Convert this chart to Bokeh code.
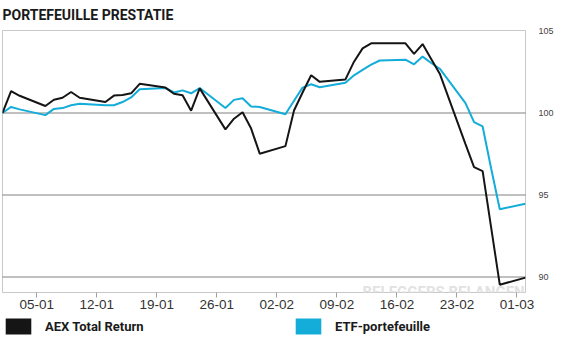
import pandas as pd
from bokeh.plotting import figure
from bokeh.layouts import column
from bokeh.models import (Range1d, FixedTicker, DatetimeTickFormatter, Label, Span,
                          Legend, LegendItem, ColumnDataSource)
from bokeh.embed import file_html
from bokeh.resources import INLINE

# ---------------- data ----------------
dates = ["2020-01-01", "2020-01-02", "2020-01-03", "2020-01-06", "2020-01-07",
         "2020-01-08", "2020-01-09", "2020-01-10", "2020-01-13", "2020-01-14",
         "2020-01-15", "2020-01-16", "2020-01-17", "2020-01-20", "2020-01-21",
         "2020-01-22", "2020-01-23", "2020-01-24", "2020-01-27", "2020-01-28",
         "2020-01-29", "2020-01-30", "2020-01-31", "2020-02-03", "2020-02-04",
         "2020-02-05", "2020-02-06", "2020-02-07", "2020-02-10", "2020-02-11",
         "2020-02-12", "2020-02-13", "2020-02-14", "2020-02-17", "2020-02-18",
         "2020-02-19", "2020-02-20", "2020-02-21", "2020-02-24", "2020-02-25",
         "2020-02-26", "2020-02-27", "2020-02-28", "2020-03-02"]

aex = [100.0, 101.34, 101.05, 100.43, 100.81, 100.93, 101.28, 100.93, 100.67, 101.06,
       101.1, 101.2, 101.78, 101.55, 101.17, 101.08, 100.14, 101.5, 99.0, 99.65,
       100.05, 99.05, 97.52, 97.98, 100.15, 101.25, 102.3, 101.9, 102.05, 103.13,
       103.94, 104.25, 104.25, 104.25, 103.6, 104.2, 103.3, 102.4, 98.1, 96.7,
       96.46, 93.0, 89.53, 89.96]

etf = [100.0, 100.37, 100.22, 99.87, 100.25, 100.3, 100.47, 100.56, 100.47, 100.47,
       100.67, 100.95, 101.45, 101.53, 101.25, 101.38, 101.2, 101.52, 100.3, 100.8,
       100.9, 100.4, 100.37, 99.92, 100.75, 101.55, 101.75, 101.57, 101.84, 102.3,
       102.63, 102.95, 103.2, 103.25, 102.97, 103.44, 103.05, 102.7, 100.6, 99.44,
       99.18, 96.6, 94.13, 94.47]

tick_dates = ["2020-01-05", "2020-01-12", "2020-01-19", "2020-01-26", "2020-02-02",
              "2020-02-09", "2020-02-16", "2020-02-23", "2020-03-01"]
y_ticks = [90, 95, 100, 105]
grid_levels = [90, 95, 100]

title_text = "PORTEFEUILLE PRESTATIE"
series_names = ["AEX Total Return", "ETF-portefeuille"]
watermark_text = "BELEGGERS BELANGEN"

# ---------------- styles ----------------
BLACK = "#151515"
CYAN = "#14acd8"
BOLDFONT = "Roboto"
W = 556

x = pd.to_datetime(dates)
src = ColumnDataSource(dict(x=x, aex=aex, etf=etf))
tick_ms = [int(t.value // 10**6) for t in pd.to_datetime(tick_dates)]

# ---------------- title strip ----------------
ts = figure(width=W, height=22, output_backend="svg", toolbar_location=None,
            x_axis_location=None, y_axis_location=None, min_border=0)
ts.outline_line_color = None
ts.grid.visible = False
ts.add_layout(Label(x=0, y=8, x_units="screen", y_units="screen", text=title_text,
                    text_font=BOLDFONT, text_font_style="bold", text_font_size="14px",
                    text_color="#1a1a1a", text_baseline="alphabetic"))

# ---------------- main chart ----------------
p = figure(width=W, height=293, x_axis_type="datetime", y_axis_location="right",
           output_backend="svg", toolbar_location=None,
           x_range=Range1d(x[0].to_pydatetime(), x[-1].to_pydatetime()),
           y_range=Range1d(89.0549, 105.0305),
           min_border_left=2, min_border_right=23, min_border_top=8, min_border_bottom=23)

p.background_fill_color = "white"
p.border_fill_color = "white"
p.outline_line_color = "#c8c8c8"
p.outline_line_width = 1

# dotted reference lines
p.grid.visible = False
for lvl in grid_levels:
    p.add_layout(Span(location=lvl, dimension="width", line_color="#000000",
                      line_dash="1 1", line_width=1, level="underlay"))

# x axis
xa = p.xaxis[0]
xa.ticker = FixedTicker(ticks=tick_ms, minor_ticks=[])
fmt = "%d-%m"
xa.formatter = DatetimeTickFormatter(milliseconds=fmt, seconds=fmt, minsec=fmt, minutes=fmt,
                                     hourmin=fmt, hours=fmt, days=fmt, months=fmt, years=fmt)
xa.axis_line_color = None
xa.major_tick_line_color = "#a0a0a0"
xa.major_tick_in = 0
xa.major_tick_out = 5
xa.minor_tick_line_color = None
xa.major_label_standoff = 2
xa.major_label_text_font = "Liberation Sans"
xa.major_label_text_font_size = "13.5px"
xa.major_label_text_color = "#333333"

# y axis (right)
ya = p.yaxis[0]
ya.ticker = FixedTicker(ticks=y_ticks, minor_ticks=[])
ya.axis_line_color = None
ya.major_tick_line_color = None
ya.minor_tick_line_color = None
ya.major_label_standoff = 7
ya.major_label_text_font = "Liberation Sans"
ya.major_label_text_font_size = "9px"
ya.major_label_text_color = "#444444"

# watermark (inside the frame, under the lines)
p.add_layout(Label(x=360, y=1, x_units="screen", y_units="screen", text=watermark_text,
                   text_font=BOLDFONT, text_font_style="bold", text_font_size="15px",
                   text_color="#e2e2e2", text_baseline="alphabetic", level="underlay"))

# lines
p.line("x", "etf", source=src, line_color=CYAN, line_width=2)
p.line("x", "aex", source=src, line_color=BLACK, line_width=2)

# ---------------- legend strip ----------------
nan = float("nan")
lg = figure(width=W, height=21, output_backend="svg", toolbar_location=None,
            x_axis_location=None, y_axis_location=None, min_border=0)
lg.outline_line_color = None
lg.grid.visible = False
q1 = lg.quad(left=[nan], right=[nan], top=[nan], bottom=[nan], fill_color=BLACK, line_color=None)
q2 = lg.quad(left=[nan], right=[nan], top=[nan], bottom=[nan], fill_color=CYAN, line_color=None)
legend = Legend(items=[LegendItem(label=series_names[0], renderers=[q1]),
                       LegendItem(label=series_names[1], renderers=[q2])],
                orientation="horizontal", location=(0, 0),
                glyph_width=32, glyph_height=20, label_standoff=11, label_width=247,
                spacing=0, padding=0, margin=0, border_line_color=None,
                background_fill_alpha=0, label_text_font=BOLDFONT,
                label_text_font_style="bold", label_text_font_size="13px",
                label_text_color="#1a1a1a")
lg.add_layout(legend)

layout = column(ts, p, lg, spacing=0)
open("out.html", "w").write(file_html(layout, INLINE))
